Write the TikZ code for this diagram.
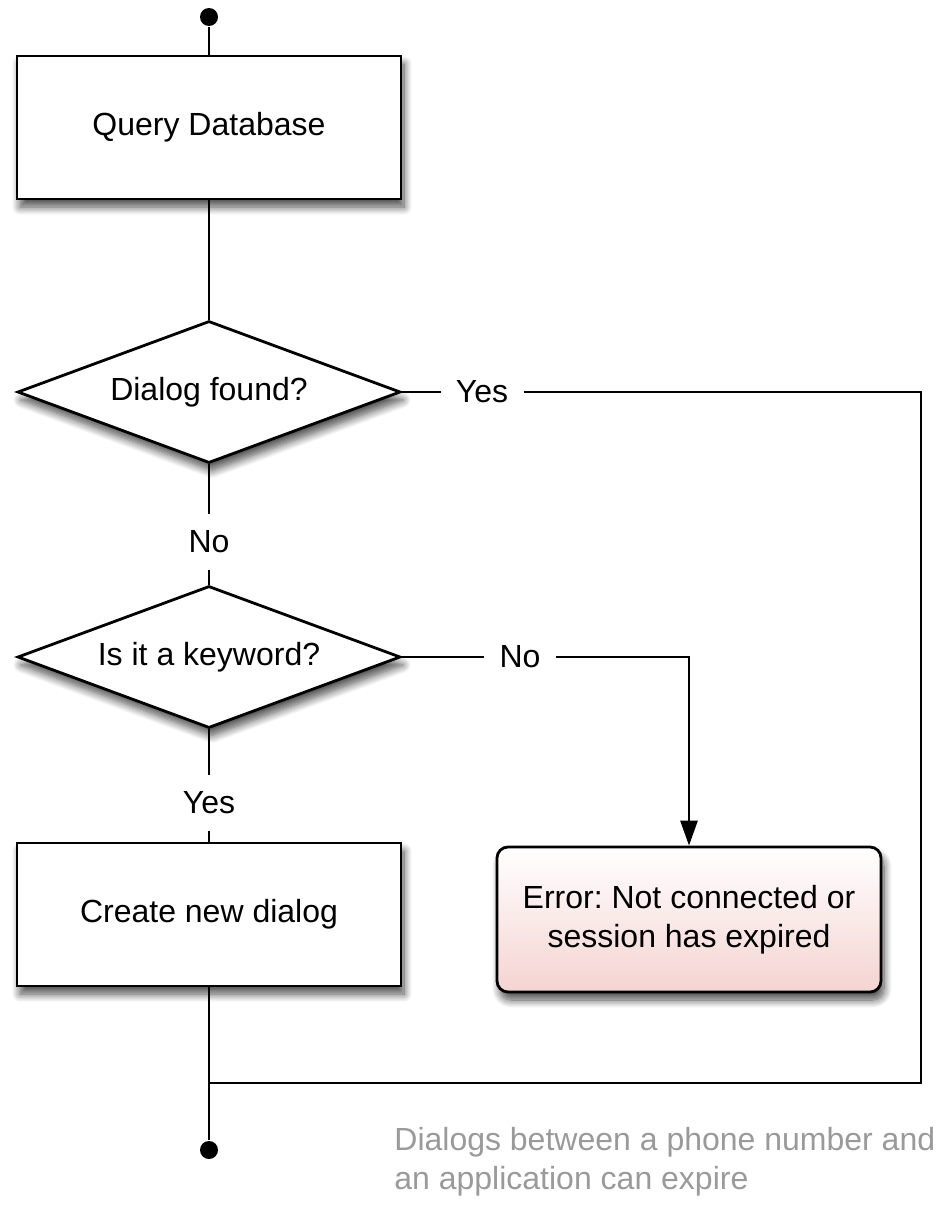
\documentclass[tikz,border=0pt]{standalone}
\usepackage{fontspec}
\setmainfont{Liberation Sans}
\usetikzlibrary{shapes.geometric,arrows.meta,shadows.blur}
\definecolor{errpink}{HTML}{F4D4D1}
\definecolor{notegray}{HTML}{9A9A9A}
\frenchspacing
\begin{document}
\begin{tikzpicture}[x=1pt,y=-1pt, line width=2.8pt,
  font=\fontsize{32}{39}\selectfont,
  shade/.style={blur shadow={shadow xshift=3pt, shadow yshift=-8pt, shadow blur steps=10, shadow blur radius=8pt, shadow opacity=70}},
  proc/.style={draw, fill=white, minimum width=384pt, minimum height=143pt, inner sep=0pt, shade},
  decision/.style={diamond, draw, fill=white, aspect=2.7, minimum width=383pt, minimum height=142pt, inner sep=0pt, shade},
  errbox/.style={draw, rounded corners=11pt, top color=white, bottom color=errpink, minimum width=384pt, minimum height=145pt, inner sep=0pt, align=center, shade},
  dot/.style={circle, fill=black, minimum size=18pt, inner sep=0pt},
  lbl/.style={inner xsep=14pt, inner ysep=15pt},
  note/.style={text=notegray, align=left, anchor=north west, inner sep=0pt}
]
\useasboundingbox (0,0) rectangle (946,1218);

\node[dot] (start) at (209,17) {};
\node[proc] (qd) at (209,127.5) {Query Database};
\node[decision] (d1) at (209,392) {Dialog found?};
\node[lbl] (yes1) at (482,392) {Yes};
\node[lbl] (no1) at (209,542) {No};
\node[decision] (d2) at (209,657) {Is it a keyword?};
\node[lbl] (no2) at (520,657) {No};
\node[lbl] (yes2) at (209,803) {Yes};
\node[proc] (cnd) at (209,914.5) {Create new dialog};
\node[errbox] (err) at (689,919.5) {Error: Not connected or\\session has expired};
\node[dot] (stop) at (209,1150) {};
\coordinate (c1) at (921,392);
\coordinate (c2) at (921,1083);
\coordinate (j) at (209,1083);
\coordinate (c3) at (689,657);
\node[note] (nt) at (393,1126) {Dialogs between a phone number and\\an application can expire};

\draw (start) -- (qd.north);
\draw (qd.south) -- (d1.north);
\draw (d1.east) -- (yes1.west);
\draw (yes1.east) -- (c1) -- (c2) -- (j);
\draw (d1.south) -- (no1.north);
\draw (no1.south) -- (d2.north);
\draw (d2.east) -- (no2.west);
\draw[-{Triangle[length=25pt,width=17pt]}] (no2.east) -- (c3) -- (err.north);
\draw (d2.south) -- (yes2.north);
\draw (yes2.south) -- (cnd.north);
\draw (cnd.south) -- (j) -- (stop);
\end{tikzpicture}
\end{document}
